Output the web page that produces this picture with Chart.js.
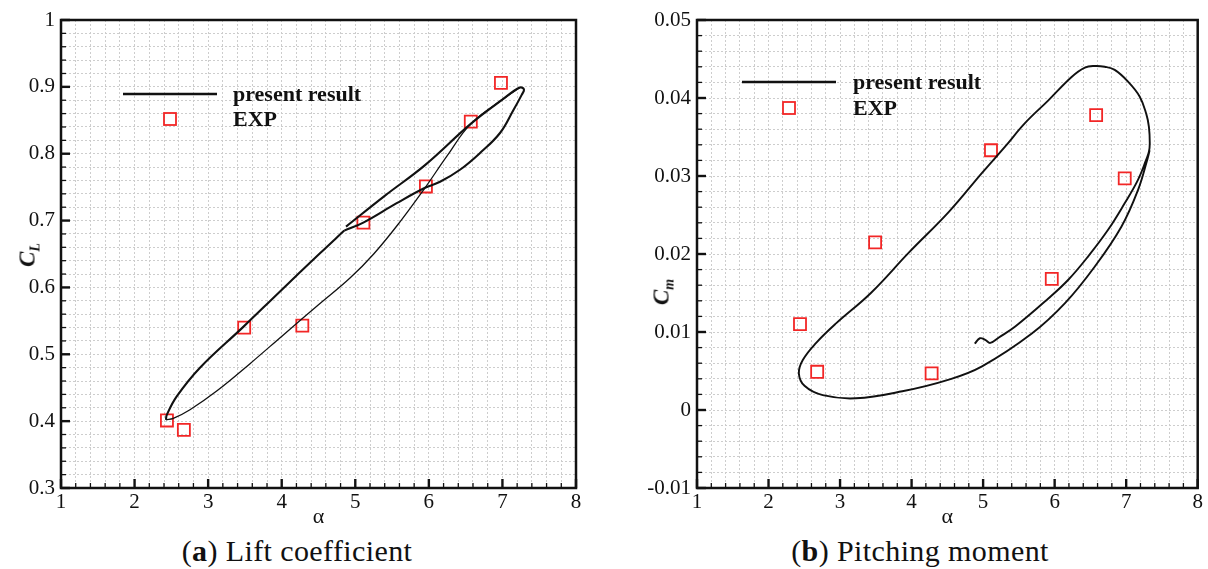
<!DOCTYPE html>
<html>
<head>
<meta charset="utf-8">
<title>Lift coefficient and pitching moment</title>
<script src="https://cdn.jsdelivr.net/npm/chart.js@4.4.0/dist/chart.umd.min.js"></script>
<style>
  html, body { margin: 0; padding: 0; background: #fff; }
  #wrap { position: relative; width: 1208px; height: 569px; overflow: hidden; font-family: "Liberation Serif", serif; color: #111; }
  #wrap canvas { position: absolute; top: 0; }
  #cvLift { left: 0; }
  #cvMoment { left: 604px; }
  .ytitle { position: absolute; transform: translate(-50%, -50%) rotate(-90deg); font-weight: bold; font-style: italic; font-size: 23px; white-space: nowrap; line-height: 1; }
  .ytitle sub { font-size: 14px; vertical-align: -5px; }
  .caption { position: absolute; top: 533px; font-size: 30px; letter-spacing: 0.4px; white-space: nowrap; transform: translateX(-50%); line-height: 1.2; }
</style>
</head>
<body>
<div id="wrap">
  <canvas id="cvLift" width="604" height="530"></canvas>
  <canvas id="cvMoment" width="604" height="530"></canvas>
  <div class="ytitle" style="left:29px; top:255px;">C<sub>L</sub></div>
  <div class="ytitle" style="left:663px; top:292px;">C<sub>m</sub></div>
  <div class="caption" style="left:297px;">(<b>a</b>) Lift coefficient</div>
  <div class="caption" style="left:920px;">(<b>b</b>) Pitching moment</div>
</div>
<script>
// axis ticks
const alphaTicks = [1, 2, 3, 4, 5, 6, 7, 8];
const alphaTickLabels = ['1', '2', '3', '4', '5', '6', '7', '8'];
const clTicks = [0.3, 0.4, 0.5, 0.6, 0.7, 0.8, 0.9, 1];
const clTickLabels = ['0.3', '0.4', '0.5', '0.6', '0.7', '0.8', '0.9', '1'];
const cmTicks = [-0.01, 0, 0.01, 0.02, 0.03, 0.04, 0.05];
const cmTickLabels = ['-0.01', '0', '0.01', '0.02', '0.03', '0.04', '0.05'];

// lift: start of the run up to max angle, then down stroke to the crossing and on to the knee
const clStartAlpha = [4.874, 5.400, 5.948, 6.573, 7.012, 7.237, 7.293, 7.262, 7.148, 6.967, 6.695, 6.423, 6.152, 5.948, 5.563, 5.109, 4.850];
const clStartCl    = [0.691, 0.737, 0.783, 0.845, 0.882, 0.899, 0.896, 0.888, 0.865, 0.831, 0.801, 0.776, 0.758, 0.749, 0.726, 0.697, 0.685];
// lift: down stroke from the knee to the lowest angle
const clDownAlpha = [4.850, 4.520, 3.977, 3.478, 2.889, 2.573, 2.437, 2.427];
const clDownCl    = [0.685, 0.651, 0.594, 0.541, 0.480, 0.437, 0.409, 0.402];
// lift: up stroke back to max angle
const clUpAlpha = [2.427, 2.526, 2.753, 3.116, 3.569, 4.022, 4.500, 4.928, 5.250, 5.600, 5.948, 6.243, 6.573, 7.012, 7.237];
const clUpCl    = [0.402, 0.404, 0.417, 0.445, 0.486, 0.529, 0.574, 0.614, 0.650, 0.697, 0.749, 0.796, 0.845, 0.882, 0.899];
// lift: experiment
const clExpAlpha = [2.44, 2.67, 3.49, 4.28, 5.11, 5.96, 6.57, 6.98];
const clExpCl    = [0.401, 0.387, 0.540, 0.543, 0.697, 0.751, 0.848, 0.906];

// pitching moment: computed loop
const cmLoopAlpha = [4.883, 4.955, 5.030, 5.100, 5.220, 5.449, 5.912, 6.191, 6.469, 6.747, 6.979, 7.165, 7.280, 7.318,
  7.330, 7.318, 7.280, 7.188, 7.026, 6.840, 6.700, 6.562, 6.423, 6.237, 5.912, 5.588, 5.310, 4.985, 4.521, 3.964, 3.431, 2.944, 2.666, 2.479, 2.424, 2.503, 2.758, 3.222, 3.871, 4.521, 4.985, 5.681, 6.145, 6.562, 6.933, 7.165, 7.295, 7.328];
const cmLoopCm    = [0.0085, 0.0092, 0.0090, 0.0086, 0.0093, 0.0107, 0.0143, 0.0167, 0.0197, 0.0231, 0.0265, 0.0295, 0.0321, 0.0331,
  0.0342, 0.0363, 0.0380, 0.0402, 0.0421, 0.0436, 0.0440, 0.0441, 0.0439, 0.0427, 0.0397, 0.0368, 0.0338, 0.0304, 0.0254, 0.0202, 0.0150, 0.0111, 0.0086, 0.0064, 0.0047, 0.0031, 0.0019, 0.0015, 0.0024, 0.0039, 0.0056, 0.0098, 0.0137, 0.0184, 0.0235, 0.0282, 0.0321, 0.0333];
// pitching moment: experiment
const cmExpAlpha = [2.44, 2.68, 3.49, 4.28, 5.11, 5.96, 6.58, 6.98];
const cmExpCm    = [0.0110, 0.0049, 0.0215, 0.0047, 0.0333, 0.0168, 0.0378, 0.0297];

const SERIF = '"Liberation Serif", "Times New Roman", serif';
const EXP_RED = 'rgb(242,38,38)';
const GRID_GREY = '#cdcdcd';

function pts(xs, ys){ return xs.map((x, i) => ({x: x, y: ys[i]})); }

// major ticks plus evenly split minor ticks (grid lines sit on all of them)
function withMinor(majors, parts){
  const out = [];
  for(let i = 0; i < majors.length - 1; i++){
    const a = majors[i], b = majors[i + 1];
    for(let k = 0; k < parts; k++) out.push({value: +(a + (b - a) * k / parts).toFixed(6)});
  }
  out.push({value: majors[majors.length - 1]});
  return out;
}
function labelFor(majors, labels){
  return v => {
    const i = majors.findIndex(m => Math.abs(m - v) < 1e-9);
    return i < 0 ? '' : labels[i];
  };
}

// box frame and inward tick marks
const frameTicks = {
  id: 'frameTicks',
  afterDraw(chart){
    const {ctx, chartArea: a, scales} = chart;
    ctx.save();
    ctx.strokeStyle = '#111';
    scales.x.ticks.forEach(t => {
      const px = scales.x.getPixelForValue(t.value);
      const major = t.label !== '';
      ctx.lineWidth = major ? 2.4 : 1.3;
      ctx.beginPath(); ctx.moveTo(px, a.bottom); ctx.lineTo(px, a.bottom - (major ? 9 : 5)); ctx.stroke();
    });
    scales.y.ticks.forEach(t => {
      const py = scales.y.getPixelForValue(t.value);
      const major = t.label !== '';
      ctx.lineWidth = major ? 2.4 : 1.3;
      ctx.beginPath(); ctx.moveTo(a.left, py); ctx.lineTo(a.left + (major ? 9 : 5), py); ctx.stroke();
    });
    ctx.lineWidth = 2.5;
    ctx.strokeRect(a.left, a.top, a.right - a.left, a.bottom - a.top);
    ctx.restore();
  }
};

// legend block inside the plot
const boxLegend = {
  id: 'boxLegend',
  afterDatasetsDraw(chart, args, opts){
    const ctx = chart.ctx;
    const ds = chart.data.datasets;
    const lineLabel = ds[0].label, expLabel = ds[ds.length - 1].label;
    const cx = (opts.x0 + opts.x1) / 2;
    ctx.save();
    ctx.strokeStyle = '#111';
    ctx.lineWidth = 2.6;
    ctx.beginPath(); ctx.moveTo(opts.x0, opts.lineY); ctx.lineTo(opts.x1, opts.lineY); ctx.stroke();
    ctx.strokeStyle = EXP_RED;
    ctx.lineWidth = 1.8;
    ctx.strokeRect(cx - 6, opts.markY - 6, 12, 12);
    ctx.fillStyle = '#111';
    ctx.font = 'bold 22px ' + SERIF;
    ctx.textBaseline = 'alphabetic';
    ctx.fillText(lineLabel, opts.textX, opts.lineY + 7);
    ctx.fillText(expLabel, opts.textX, opts.markY + 7);
    ctx.restore();
  }
};

function makeChart(id, cfg){
  const tickFont = {family: SERIF, size: 21};
  return new Chart(document.getElementById(id), {
    type: 'scatter',
    data: {datasets: cfg.datasets},
    options: {
      responsive: false,
      animation: false,
      events: [],
      layout: {padding: {left: 0, right: cfg.padRight, top: 20, bottom: 0}},
      plugins: {legend: {display: false}, tooltip: {enabled: false}, boxLegend: cfg.legend},
      scales: {
        x: {
          type: 'linear', min: 1, max: 8,
          afterBuildTicks: s => { s.ticks = withMinor(alphaTicks, 5); },
          afterFit: s => { s.height = 42; },
          ticks: {autoSkip: false, maxRotation: 0, minRotation: 0, padding: 2, color: '#111', font: tickFont,
                  callback: labelFor(alphaTicks, alphaTickLabels)},
          grid: {color: GRID_GREY, lineWidth: 1, drawTicks: false},
          border: {display: false, dash: [2, 2]},
          title: {display: true, text: 'α', color: '#111', font: {family: SERIF, size: 22}, padding: {top: 0, bottom: 0}}
        },
        y: {
          type: 'linear', min: cfg.yTicks[0], max: cfg.yTicks[cfg.yTicks.length - 1],
          afterBuildTicks: s => { s.ticks = withMinor(cfg.yTicks, 5); },
          afterFit: s => { s.width = cfg.yWidth; },
          ticks: {autoSkip: false, padding: 6, color: '#111', font: tickFont,
                  callback: labelFor(cfg.yTicks, cfg.yLabels)},
          grid: {color: GRID_GREY, lineWidth: 1, drawTicks: false},
          border: {display: false, dash: [2, 2]}
        }
      }
    },
    plugins: [frameTicks, boxLegend]
  });
}

function curve(label, xs, ys, width){
  return {label: label, data: pts(xs, ys), showLine: true, borderColor: '#111', borderWidth: width,
          pointRadius: 0, tension: 0.4, fill: false};
}
function squares(label, xs, ys){
  return {label: label, data: pts(xs, ys), showLine: false, pointStyle: 'rect', pointRadius: 8.5,
          borderColor: EXP_RED, backgroundColor: 'rgba(0,0,0,0)', borderWidth: 1.8};
}

makeChart('cvLift', {
  padRight: 28, yWidth: 61, yTicks: clTicks, yLabels: clTickLabels,
  legend: {x0: 123, x1: 217, lineY: 94, markY: 119, textX: 233},
  datasets: [
    curve('present result', clStartAlpha, clStartCl, 2.1),
    curve('present result', clDownAlpha, clDownCl, 2.1),
    curve('present result', clUpAlpha, clUpCl, 1.3),
    squares('EXP', clExpAlpha, clExpCl)
  ]
});

makeChart('cvMoment', {
  padRight: 8, yWidth: 93, yTicks: cmTicks, yLabels: cmTickLabels,
  legend: {x0: 138, x1: 232, lineY: 82, markY: 108, textX: 249},
  datasets: [
    curve('present result', cmLoopAlpha, cmLoopCm, 1.9),
    squares('EXP', cmExpAlpha, cmExpCm)
  ]
});
</script>
</body>
</html>
